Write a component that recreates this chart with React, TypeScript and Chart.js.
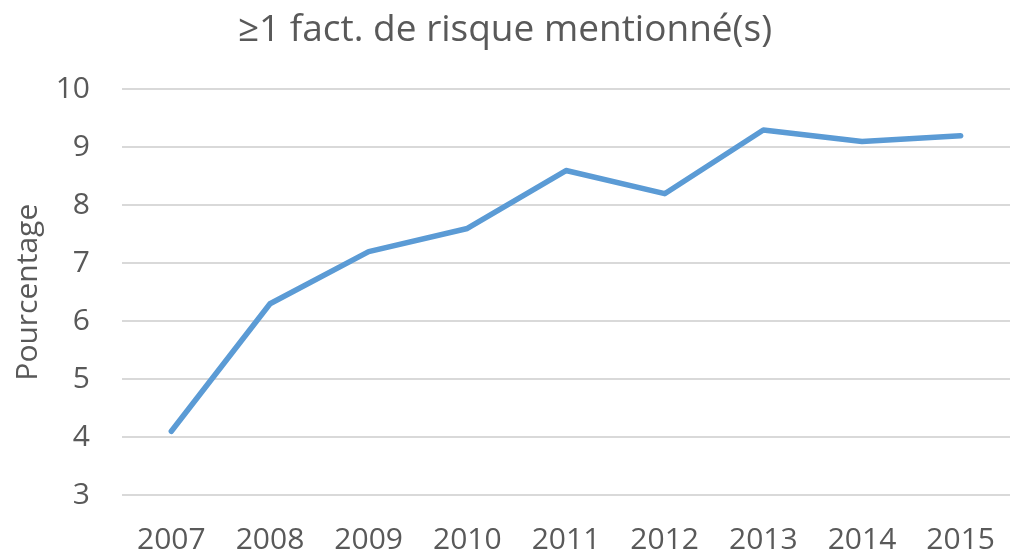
import React, { useEffect, useRef } from "react";
import { Chart, registerables } from "chart.js";

Chart.register(...registerables);

const years = ["2007", "2008", "2009", "2010", "2011", "2012", "2013", "2014", "2015"];
const values = [4.1, 6.3, 7.2, 7.6, 8.6, 8.2, 9.3, 9.1, 9.2];
const yTicks = [3, 4, 5, 6, 7, 8, 9, 10];
const titleText = "≥1 fact. de risque mentionné(s)";
const yTitle = "Pourcentage";

export default function App() {
  const ref = useRef<HTMLCanvasElement | null>(null);
  useEffect(() => {
    if (!ref.current) return;
    const chart = new Chart(ref.current, {
      type: "line",
      data: {
        labels: years,
        datasets: [
          {
            data: values,
            borderColor: "#5B9BD5",
            borderWidth: 5.5,
            pointRadius: 0,
            borderCapStyle: "round",
            borderJoinStyle: "round",
            tension: 0,
            fill: false,
          },
        ],
      },
      options: {
        animation: false,
        responsive: false,
        maintainAspectRatio: false,
        layout: { padding: { left: 0, right: 6, top: 0, bottom: 0 } },
        plugins: {
          legend: { display: false },
          tooltip: { enabled: false },
          title: {
            display: true,
            text: titleText,
            color: "#595959",
            font: { family: "Open Sans", size: 37, weight: "normal" },
            padding: { top: 8, bottom: 37 },
          },
        },
        scales: {
          x: {
            type: "category",
            offset: true,
            grid: { display: false, drawTicks: false },
            border: { display: false },
            ticks: {
              color: "#595959",
              font: { family: "Open Sans", size: 30 },
              padding: 27,
              maxRotation: 0,
              autoSkip: false,
            },
            afterFit: (s: any) => {
              s.height = 60;
              s.paddingLeft = 0;
              s.paddingRight = 0;
              s.paddingTop = 0;
              s.paddingBottom = 0;
            },
          },
          y: {
            min: 3,
            max: 10,
            afterBuildTicks: (s: any) => {
              s.ticks = yTicks.map((v) => ({ value: v }));
            },
            grid: { color: "#d9d9d9", lineWidth: 2, drawTicks: false },
            border: { display: false },
            ticks: {
              color: "#595959",
              font: { family: "Open Sans", size: 30 },
              padding: 32,
            },
            title: {
              display: true,
              text: yTitle,
              color: "#595959",
              font: { family: "Open Sans", size: 30 },
              padding: { top: 10, bottom: 0 },
            },
            afterFit: (s: any) => {
              s.width = 122;
            },
          },
        },
      },
    });
    return () => chart.destroy();
  }, []);
  return (
    <div style={{ position: "absolute", left: 0, top: 0, width: 1016, height: 555, background: "#fff" }}>
      <canvas ref={ref} width={1016} height={555} />
    </div>
  );
}
